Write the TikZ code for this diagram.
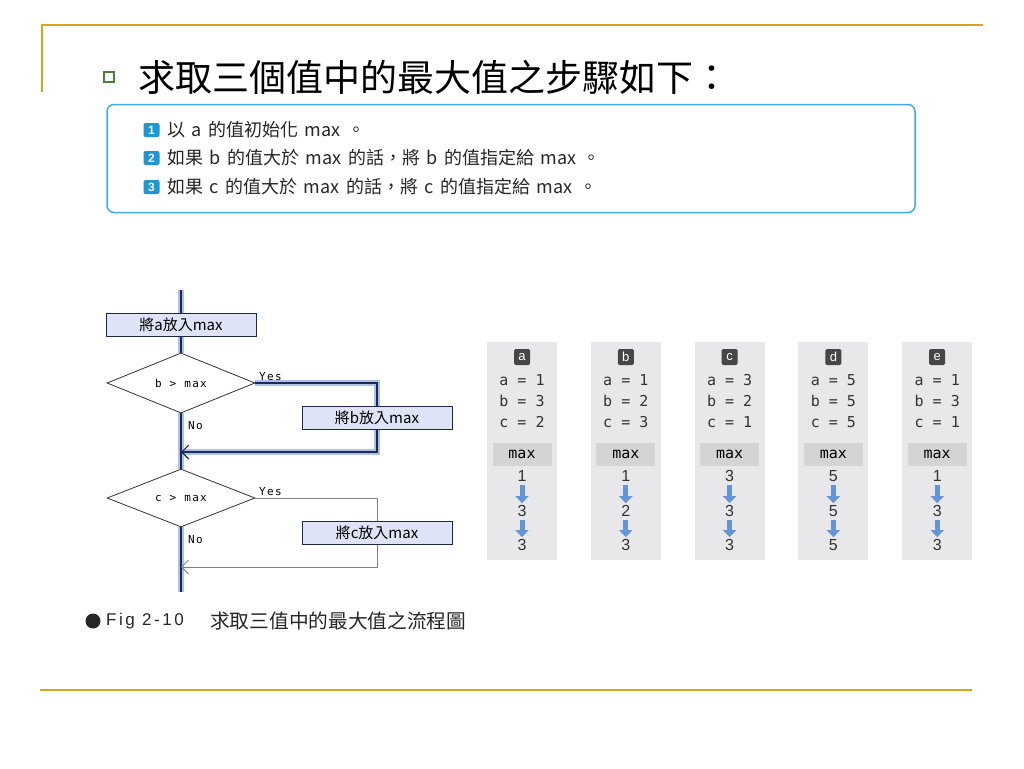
\documentclass[tikz,border=0pt]{standalone}
\usepackage{fontspec}
\setmainfont{Liberation Sans}
\newfontfamily\cjk{Noto Sans CJK TC}
\newfontfamily\mono{DejaVu Sans Mono}
\newfontfamily\spmono[LetterSpace=12]{DejaVu Sans Mono}
\newfontfamily\spsans[LetterSpace=15]{Liberation Sans}
\newcommand\stepfont{\cjk\fontsize{18}{18}\selectfont\spaceskip=6.5pt\relax}
\usetikzlibrary{shapes.geometric,arrows.meta}

\definecolor{gold}{RGB}{214,166,30}
\definecolor{bullgreen}{RGB}{70,130,50}
\definecolor{stepblue}{RGB}{64,172,228}
\definecolor{numblue}{RGB}{30,150,210}
\definecolor{flowdark}{RGB}{30,40,80}
\definecolor{glow}{RGB}{172,192,232}
\definecolor{procfill}{RGB}{222,228,245}
\definecolor{colgray}{RGB}{232,232,234}
\definecolor{maxgray}{RGB}{212,212,214}
\definecolor{tagdark}{RGB}{70,70,70}
\definecolor{arrblue}{RGB}{100,150,215}

\begin{document}
\begin{tikzpicture}[x=1pt,y=-1pt,node distance={35pt}]
	\tikzstyle{frame}=[draw=gold, line width=1.6pt]
	\tikzstyle{num}=[fill=numblue, text=white, rounded corners=2pt, inner sep=0pt, minimum width=16pt, minimum height=14pt, font=\bfseries\fontsize{12}{12}\selectfont]
	\tikzstyle{st}=[anchor=west, inner sep=0pt, text=black!85, font=\stepfont]
	\tikzstyle{proc}=[draw=flowdark, line width=0.8pt, fill=procfill, minimum width=150pt, minimum height=23pt, font=\cjk\fontsize{15}{15}\selectfont]
	\tikzstyle{dec}=[diamond, draw=black!80, line width=0.8pt, fill=white, minimum width=148pt, minimum height=46pt, inner sep=0pt, font=\spmono\fontsize{11}{11}\selectfont]
	\tikzstyle{hl}=[draw=glow, line width=6pt]
	\tikzstyle{ln}=[draw=flowdark, line width=1.2pt]
	\tikzstyle{ln2}=[draw=black!50, line width=0.8pt]
	\tikzstyle{lab}=[inner sep=0pt, font=\spmono\fontsize{11}{11}\selectfont]
	\tikzstyle{col}=[fill=colgray, minimum width=70pt, minimum height=218pt, inner sep=0pt]
	\tikzstyle{tag}=[fill=tagdark, text=white, rounded corners=1.5pt, minimum size=16pt, inner sep=0pt, font=\fontsize{13}{13}\selectfont]
	\tikzstyle{eq}=[inner sep=0pt, text=black!80, font=\mono\fontsize{15}{15}\selectfont]
	\tikzstyle{mx}=[fill=maxgray, minimum width=59pt, minimum height=23pt, inner sep=0pt, font=\mono\fontsize{15}{15}\selectfont]
	\tikzstyle{val}=[inner sep=0pt, text=black!80, font=\fontsize{16}{16}\selectfont]
	\tikzstyle{down}=[draw=arrblue, line width=5pt, -{Triangle[width=13pt,length=7pt]}, shorten <=3pt, shorten >=2pt]

	\useasboundingbox (0,0) rectangle (1024,768);

	% slide frame
	\draw[frame] (42,92) -- (42,25) -- (983,25);
	\draw[frame] (40,690) -- (972,690);

	% title
	\node[draw=bullgreen, line width=2pt, fill=white, minimum size=10pt, inner sep=0pt] (bul) at (109,77) {};
	\node[anchor=west, inner sep=0pt, font=\cjk\fontsize{37}{37}\selectfont] (title) at (138,77) {求取三個值中的最大值之步驟如下：};

	% steps
	\node[draw=stepblue, line width=1.5pt, rounded corners=7pt, minimum width=808pt, minimum height=108pt] (steps) at (511,158.5) {};
	\foreach \i/\y/\t in {1/130/{以 a 的值初始化 max 。}, 2/158/{如果 b 的值大於 max 的話，將 b 的值指定給 max 。}, 3/187/{如果 c 的值大於 max 的話，將 c 的值指定給 max 。}}{
		\node[num] (n\i) at (151.5,\y) {\i};
		\node[st] (s\i) at (167,\y) {\t};
	}

	% flowchart
	\node[proc] (pa) at (181,325) {將a放入max};
	\node[dec] (db) at (181,383) {b > max};
	\node[proc] (pb) at (377,418) {將b放入max};
	\node[dec] (dc) at (181,498) {c > max};
	\node[proc] (pc) at (377,533) {將c放入max};
	\coordinate (top) at (181,290);
	\coordinate (bot) at (181,592);
	\coordinate (jb) at (181,452);
	\coordinate (jc) at (181,567);

	\foreach \from/\to in {top/pa.north,pa.south/db.north,db.south/dc.north,dc.south/bot}
		\draw[hl] (\from) -- (\to);
	\draw[hl] (db.east) -| (pb.north);
	\draw[hl] (pb.south) |- (jb);
	\foreach \from/\to in {top/pa.north,pa.south/db.north,db.south/dc.north,dc.south/bot}
		\draw[ln] (\from) -- (\to);
	\draw[ln] (db.east) -| (pb.north);
	\draw[ln, -{Straight Barb[length=7pt,width=14pt]}] (pb.south) |- (jb);
	\draw[ln2] (dc.east) -| (pc.north);
	\draw[ln2, -{Straight Barb[length=7pt,width=14pt]}] (pc.south) |- (jc);

	\node[lab, anchor=south west] (yb) at (259,381) {Yes};
	\node[lab, anchor=west] (nb) at (188,426) {No};
	\node[lab, anchor=south west] (yc) at (259,496) {Yes};
	\node[lab, anchor=west] (nc) at (188,540) {No};

	% sample values
	\foreach \n/\va/\vb/\vc/\ma/\mb/\mc [count=\i from 0] in {a/1/3/2/1/3/3,b/1/2/3/1/2/3,c/3/2/1/3/3/3,d/5/5/5/5/5/5,e/1/3/1/1/3/3}{
		\pgfmathsetmacro{\cx}{522+103.8*\i}
		\node[col] (col-\n) at (\cx,451) {};
		\node[tag] (tag-\n) at (\cx,357) {\n};
		\node[eq] (a-\n) at (\cx,380) {a = \va};
		\node[eq] (b-\n) at (\cx,401) {b = \vb};
		\node[eq] (c-\n) at (\cx,422) {c = \vc};
		\node[mx] (mx-\n) at (\cx,454.5) {max};
		\node[val] (v1-\n) at (\cx,476) {\ma};
		\node[val] (v2-\n) at (\cx,511) {\mb};
		\node[val] (v3-\n) at (\cx,545) {\mc};
		\draw[down] (v1-\n) -- (v2-\n);
		\draw[down] (v2-\n) -- (v3-\n);
	}

	% caption
	\node[circle, fill=black!85, minimum size=15pt, inner sep=0pt] (dot) at (93,621) {};
	\node[anchor=west, inner sep=0pt, text=black!85, font=\spsans\fontsize{17}{17}\selectfont] (fig) at (106,621) {Fig 2-10};
	\node[anchor=west, inner sep=0pt, text=black!85, font=\cjk\fontsize{19.7}{19.7}\selectfont] (cap) at (210,621) {求取三值中的最大值之流程圖};
\end{tikzpicture}
\end{document}
